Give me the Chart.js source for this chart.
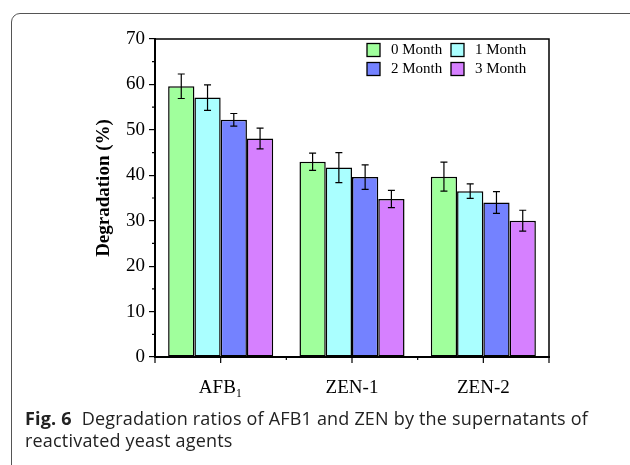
<!DOCTYPE html>
<html>
<head>
<meta charset="utf-8">
<script src="https://cdn.jsdelivr.net/npm/chart.js@4.4.1/dist/chart.umd.min.js"></script>
<style>
  html, body { margin: 0; padding: 0; background: #fff; }
  #wrap { position: relative; width: 630px; height: 465px; overflow: hidden; }
  #frame {
    position: absolute; left: 11px; top: 13px; width: 630px; height: 470px;
    border: 1px solid #555; border-top-left-radius: 9px; border-top-right-radius: 9px;
    box-sizing: border-box;
  }
  #chart { position: absolute; left: 0; top: 0; }
  #caption {
    position: absolute; left: 25px; top: 408px;
    font-family: 'Open Sans', 'Noto Sans', sans-serif; font-size: 18px; line-height: 21.5px;
    color: #222; white-space: nowrap;
  }
  #caption span { display: inline-block; }
  #caption b { font-weight: 700; margin-right: 5px; }
</style>
</head>
<body>
<div id="wrap">
  <div id="frame"></div>
  <canvas id="chart" width="630" height="465"></canvas>
  <div id="caption"><span id="cap1"><b>Fig. 6</b> Degradation ratios of AFB1 and ZEN by the supernatants of</span><br><span id="cap2">reactivated yeast agents</span></div>
</div>
<script>
// data
const categories = ['AFB₁', 'ZEN-1', 'ZEN-2'];
const seriesLabels = ['0 Month', '1 Month', '2 Month', '3 Month'];
const month0 = [59.6, 43.0, 39.7];
const month1 = [57.1, 41.7, 36.5];
const month2 = [52.2, 39.6, 34.0];
const month3 = [48.1, 34.8, 30.0];
const err0 = [2.7, 1.9, 3.2];
const err1 = [2.8, 3.3, 1.6];
const err2 = [1.4, 2.7, 2.4];
const err3 = [2.3, 1.9, 2.3];
const yTicks = [0, 10, 20, 30, 40, 50, 60, 70];

const colors = ['#a0ff9c', '#aaffff', '#7482ff', '#d680ff'];
const serif = "'Liberation Serif', 'Times New Roman', serif";

const values = [month0, month1, month2, month3];
const errors = [err0, err1, err2, err3];

// squeeze caption so the first line matches the original width
const cap1 = document.getElementById('cap1');
const cap2 = document.getElementById('cap2');
const targetW = 563;
const ls = (targetW - cap1.getBoundingClientRect().width) / cap1.textContent.length;
cap1.style.letterSpacing = ls + 'px';
cap2.style.letterSpacing = ls + 'px';

// error bars, frame, minor ticks, legend, y title
const decor = {
  id: 'decor',
  afterDatasetsDraw(chart) {
    const ctx = chart.ctx;
    const y = chart.scales.y;
    ctx.save();
    ctx.strokeStyle = '#000';
    ctx.lineWidth = 1.2;
    chart.data.datasets.forEach((ds, di) => {
      const meta = chart.getDatasetMeta(di);
      meta.data.forEach((bar, i) => {
        const v = ds.data[i];
        const e = errors[di][i];
        const top = y.getPixelForValue(v + e);
        const bot = y.getPixelForValue(v - e);
        ctx.beginPath();
        ctx.moveTo(bar.x, top); ctx.lineTo(bar.x, bot);
        ctx.moveTo(bar.x - 3.5, top); ctx.lineTo(bar.x + 3.5, top);
        ctx.moveTo(bar.x - 3.5, bot); ctx.lineTo(bar.x + 3.5, bot);
        ctx.stroke();
      });
    });
    ctx.restore();
  },
  afterDraw(chart) {
    const ctx = chart.ctx;
    const a = chart.chartArea;
    const x = chart.scales.x;
    const y = chart.scales.y;
    ctx.save();
    ctx.strokeStyle = '#000';

    // top and right frame
    ctx.lineWidth = 1.5;
    ctx.beginPath();
    ctx.moveTo(a.left, a.top); ctx.lineTo(a.right, a.top); ctx.lineTo(a.right, a.bottom);
    ctx.stroke();
    // bottom axis
    ctx.lineWidth = 2;
    ctx.beginPath();
    ctx.moveTo(a.left - 1, a.bottom); ctx.lineTo(a.right + 1, a.bottom);
    ctx.stroke();

    // x ticks: major at category centres, minor between
    ctx.lineWidth = 1.2;
    ctx.beginPath();
    const step = (a.right - a.left) / categories.length;
    categories.forEach((c, i) => {
      const cx = x.getPixelForValue(i);
      ctx.moveTo(cx, a.bottom); ctx.lineTo(cx, a.bottom + 6);
    });
    for (let i = 0; i <= categories.length; i++) {
      const px = a.left + step * i;
      const len = (i === 0 || i === categories.length) ? 6 : 3;
      ctx.moveTo(px, a.bottom); ctx.lineTo(px, a.bottom + len);
    }
    // y minor ticks
    for (let i = 0; i < yTicks.length - 1; i++) {
      const py = y.getPixelForValue((yTicks[i] + yTicks[i + 1]) / 2);
      ctx.moveTo(a.left, py); ctx.lineTo(a.left - 3, py);
    }
    ctx.stroke();

    // legend, 2 x 2 inside plot
    ctx.font = '15px ' + serif;
    ctx.textBaseline = 'middle';
    ctx.fillStyle = '#000';
    seriesLabels.forEach((lab, i) => {
      const col = i % 2, row = Math.floor(i / 2);
      const bx = a.right - 182 + col * 84;
      const by = a.top + 4.5 + row * 19;
      ctx.fillStyle = colors[i];
      ctx.fillRect(bx, by, 13, 13);
      ctx.lineWidth = 1.3;
      ctx.strokeRect(bx, by, 13, 13);
      ctx.fillStyle = '#000';
      ctx.fillText(lab, bx + 24, by + 7);
    });

    // y title
    ctx.font = 'bold 19px ' + serif;
    ctx.textAlign = 'center';
    ctx.textBaseline = 'middle';
    ctx.translate(104, 188);
    ctx.rotate(-Math.PI / 2);
    ctx.fillText('Degradation (%)', 0, 0);
    ctx.restore();
  }
};

new Chart(document.getElementById('chart'), {
  type: 'bar',
  data: {
    labels: categories,
    datasets: values.map((d, i) => ({
      label: seriesLabels[i],
      data: d,
      backgroundColor: colors[i],
      borderColor: '#000',
      borderWidth: 1.5,
      borderSkipped: false,
      barPercentage: 1,
      categoryPercentage: 0.8,
    })),
  },
  options: {
    responsive: false,
    animation: false,
    layout: { padding: { left: 0, top: 39, right: 81, bottom: 0 } },
    plugins: { legend: { display: false }, tooltip: { enabled: false } },
    scales: {
      x: {
        grid: { display: false, drawTicks: false },
        border: { display: false },
        ticks: { color: '#000', font: { family: serif, size: 19 }, padding: 20, maxRotation: 0 },
        afterFit: (s) => { s.height = 108; },
      },
      y: {
        min: 0,
        max: 70,
        grid: { drawOnChartArea: false, drawTicks: true, tickLength: 6, color: '#000', lineWidth: 1.2 },
        border: { color: '#000', width: 2 },
        ticks: { stepSize: 10, color: '#000', font: { family: serif, size: 19 }, padding: 4 },
        afterFit: (s) => { s.width = 155; },
      },
    },
  },
  plugins: [decor],
});
</script>
</body>
</html>
